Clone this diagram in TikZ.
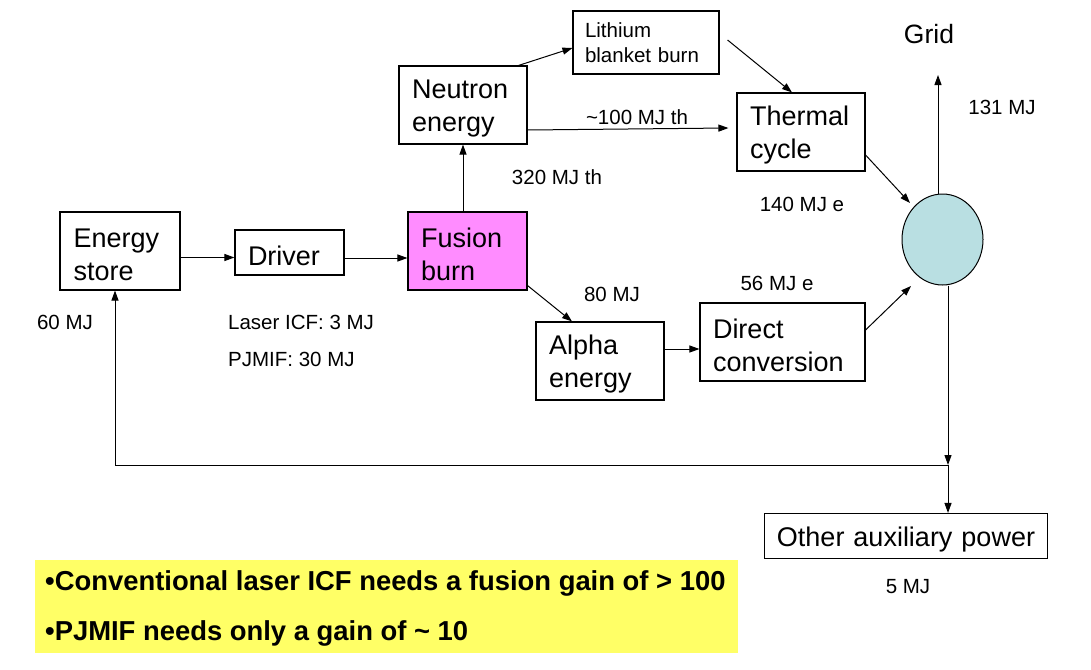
\documentclass[tikz,border=0pt]{standalone}
\usepackage{fontspec}
\setmainfont{Liberation Sans}
\usetikzlibrary{shapes.geometric,arrows.meta}
\newcommand{\tstrut}{\rule{0pt}{26pt}}
\begin{document}
\begin{tikzpicture}[x=1pt,y=-1pt,
  box/.style={draw=black,line width=1.1pt,fill=white,inner xsep=13pt,inner ysep=0pt,align=left,
    font=\fontsize{27}{33}\selectfont},
  lbl/.style={font=\fontsize{20.5}{24}\selectfont,inner sep=0pt},
  arr/.style={line width=1pt,-{Triangle[length=10pt,width=7pt]}},
  ln/.style={line width=1pt}]
\useasboundingbox (0,0) rectangle (1091,669);
% boxes
\node[box,minimum width=120,minimum height=78,text width=93] (estore) at (120,251) {\tstrut Energy\\store};
\node[box,minimum width=109,minimum height=45,text width=83] (driver) at (289.5,252.5) {\tstrut Driver};
\node[box,fill={rgb,255:red,255;green,140;blue,255},minimum width=119,minimum height=78,text width=93] (fusion) at (467.5,251) {\tstrut Fusion\\burn};
\node[box,minimum width=128,minimum height=78,text width=102] (neutron) at (463,105) {\tstrut Neutron\\energy};
\node[box,inner xsep=12pt,font=\fontsize{20.5}{25}\selectfont,minimum width=146,minimum height=63,text width=122] (lithium) at (646,42.5) {Lithium\\blanket burn};
\node[box,minimum width=128,minimum height=78,text width=102] (thermal) at (801,132) {\tstrut Thermal\\cycle};
\node[box,minimum width=128,minimum height=78,text width=102] (alpha) at (600,361) {\tstrut Alpha\\energy};
\node[box,minimum width=165,minimum height=78,text width=139] (direct) at (782.5,342) {\tstrut Direct\\conversion};
\node[draw=black,line width=1pt,fill={rgb,255:red,185;green,223;blue,226},ellipse,minimum width=81,minimum height=91,inner sep=0pt] (grid) at (942.5,239.5) {};
\node[box,align=center,inner xsep=0pt,minimum width=283,minimum height=45,text width=283] (other) at (906,536) {\tstrut Other auxiliary power};
\node[font=\fontsize{26.5}{30}\selectfont,inner sep=0pt] (gridlbl) at (929,34) {Grid};
% note
\node[fill={rgb,255:red,255;green,255;blue,102},minimum width=703,minimum height=93,inner sep=0pt] (note) at (386.5,606.5) {};
\node[anchor=west,inner sep=0pt,font=\bfseries\fontsize{27.4}{30}\selectfont] (n1) at (45,583.5) {\textbullet Conventional laser ICF needs a fusion gain of > 100};
\node[anchor=west,inner sep=0pt,font=\bfseries\fontsize{27.4}{30}\selectfont] (n2) at (45,633.5) {\textbullet PJMIF needs only a gain of \textasciitilde{} 10};
% coordinates
\coordinate (ttip) at (910,203);
\coordinate (dtip) at (911,286);
\coordinate (gtip) at (938,75);
\coordinate (J) at (948,465);
% connectors
\draw[arr] ([yshift=-6.5pt]estore.east) -- ([yshift=-6.5pt]estore.east -| driver.west);
\draw[arr] ([yshift=-5.5pt]driver.east) -- ([yshift=-5.5pt]driver.east -| fusion.west);
\draw[arr] (neutron.south |- fusion.north) -- (neutron.south);
\draw[arr] ([xshift=-9pt]neutron.north east) -- ([yshift=-5.5pt]lithium.west);
\draw[arr] ([yshift=-25pt]neutron.east) -- ([xshift=-8pt,yshift=-23pt]thermal.west |- neutron.east);
\draw[arr] ([xshift=8pt,yshift=2.5pt]lithium.east) -- ([xshift=-9pt]thermal.north);
\draw[arr] ([yshift=-23pt]thermal.east) -- (ttip);
\draw[arr] ([yshift=5pt]fusion.south east) -- ([xshift=-28pt]alpha.north);
\draw[arr] ([yshift=12pt]alpha.east) -- ([yshift=12pt]alpha.east -| direct.west);
\draw[arr] ([yshift=12pt]direct.east) -- (dtip);
\draw[arr] (grid.north -| gtip) -- (gtip);
\draw[arr] (grid.south -| J) -- (J);
\draw[arr] (J) -- (other.north -| J);
\draw[arr] (J) -| ([xshift=-5pt]estore.south);
% labels
\node[lbl] (l100) at (637,117) {\textasciitilde100 MJ th};
\node[lbl] (l320) at (557,177) {320 MJ th};
\node[lbl] (l140) at (802,204) {140 MJ e};
\node[lbl] (l131) at (1002,107) {131 MJ};
\node[lbl] (l80) at (612,294) {80 MJ};
\node[lbl] (l56) at (777,283) {56 MJ e};
\node[lbl] (l60) at (65,322) {60 MJ};
\node[lbl,anchor=west] (llaser) at (228,322) {Laser ICF: 3 MJ};
\node[lbl,anchor=west] (lpj) at (228,359) {PJMIF: 30 MJ};
\node[lbl] (l5) at (908,587) {5 MJ};
\end{tikzpicture}
\end{document}
